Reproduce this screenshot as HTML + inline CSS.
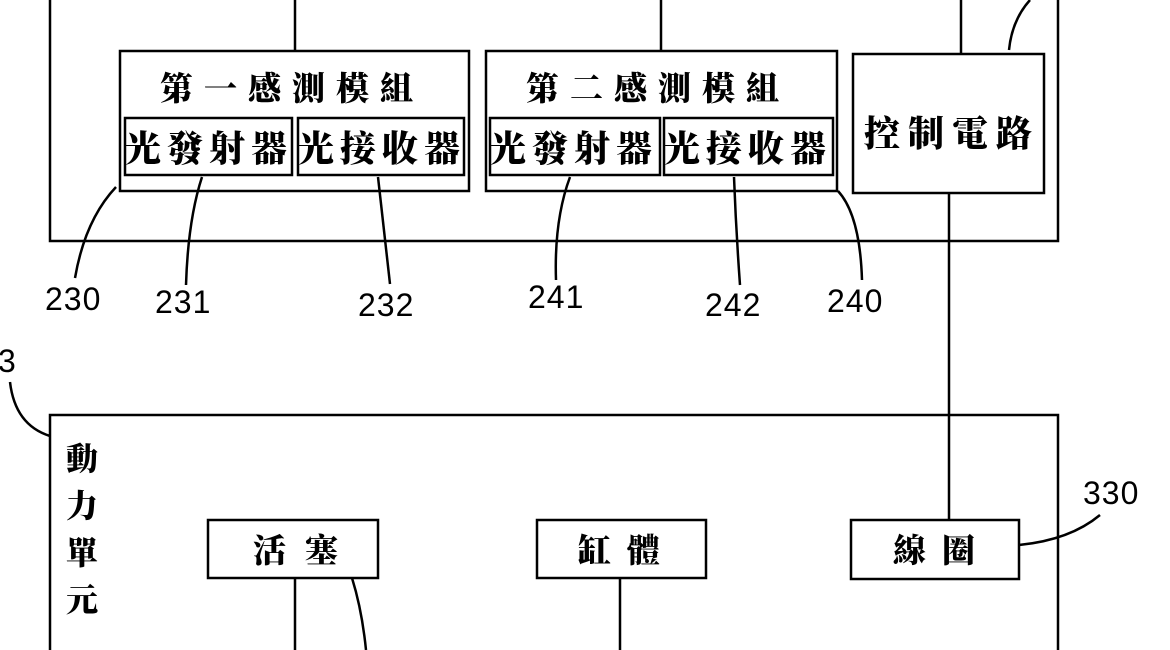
<!DOCTYPE html>
<html><head><meta charset="utf-8"><style>
html,body{margin:0;padding:0;background:#fff;width:1170px;height:650px;overflow:hidden}
svg{display:block}
text{font-family:"Noto Serif CJK SC","Noto Sans CJK TC",serif;font-weight:900;fill:#000}
.n{font-family:"Liberation Sans","DejaVu Sans",sans-serif;font-weight:normal;font-size:32px;letter-spacing:1px}
</style></head><body>
<svg width="1170" height="650" viewBox="0 0 1170 650" xmlns="http://www.w3.org/2000/svg">
<g fill="none" stroke="#000" stroke-width="2.5">
<path d="M50 0 V241 H1058 V0"/>
<line x1="295" y1="0" x2="295" y2="51"/>
<line x1="661" y1="0" x2="661" y2="51"/>
<line x1="961" y1="0" x2="961" y2="54"/>
<path d="M1030 0 Q1012 20 1009 50"/>
<rect x="120" y="51" width="349" height="140"/>
<rect x="125" y="118" width="167" height="57"/>
<rect x="298" y="118" width="166" height="57"/>
<rect x="486" y="51" width="351" height="140"/>
<rect x="490" y="118" width="170" height="57"/>
<rect x="664" y="118" width="169" height="57"/>
<rect x="853" y="54" width="191" height="139"/>
<line x1="949" y1="193" x2="949" y2="520"/>
<path d="M50 650 V415 H1058 V650"/>
<rect x="851" y="520" width="168" height="59"/>
<rect x="208" y="520" width="170" height="58"/>
<rect x="537" y="520" width="169" height="58"/>
<line x1="295" y1="578" x2="295" y2="650"/>
<line x1="620" y1="578" x2="620" y2="650"/>
<path d="M352 578 Q362 610 366 650"/>
<path d="M116 187 Q85 220 75 278"/>
<path d="M202 177 Q188 220 186 285"/>
<path d="M378 177 L390 284"/>
<path d="M570 177 Q554 220 556 280"/>
<path d="M734 177 Q736 230 740 285"/>
<path d="M838 191 Q860 215 862 280"/>
<path d="M10 382 Q15 425 50 436"/>
<path d="M1019 545 Q1070 540 1100 515"/>
</g>
<g font-size="33" letter-spacing="11">
<text x="160" y="100">第一感測模組</text>
<text x="526" y="100">第二感測模組</text>
</g>
<g font-size="36" letter-spacing="6">
<text x="125" y="161">光發射器</text>
<text x="298" y="161">光接收器</text>
<text x="490" y="161">光發射器</text>
<text x="664" y="161">光接收器</text>
</g>
<text x="864" y="146" font-size="36" letter-spacing="8">控制電路</text>
<text x="253" y="562" font-size="33" letter-spacing="19">活塞</text>
<text x="578" y="562" font-size="33" letter-spacing="16">缸體</text>
<text x="893" y="562" font-size="33" letter-spacing="16">線圈</text>
<g font-size="32"><text x="66" y="470">動</text><text x="66" y="517">力</text><text x="66" y="564">單</text><text x="66" y="611">元</text></g>
<text class="n" x="45" y="310">230</text>
<text class="n" x="155" y="313">231</text>
<text class="n" x="358" y="316">232</text>
<text class="n" x="528" y="308">241</text>
<text class="n" x="705" y="316">242</text>
<text class="n" x="827" y="312">240</text>
<text class="n" x="-2" y="372">3</text>
<text class="n" x="1083" y="504">330</text>
</svg>
</body></html>
